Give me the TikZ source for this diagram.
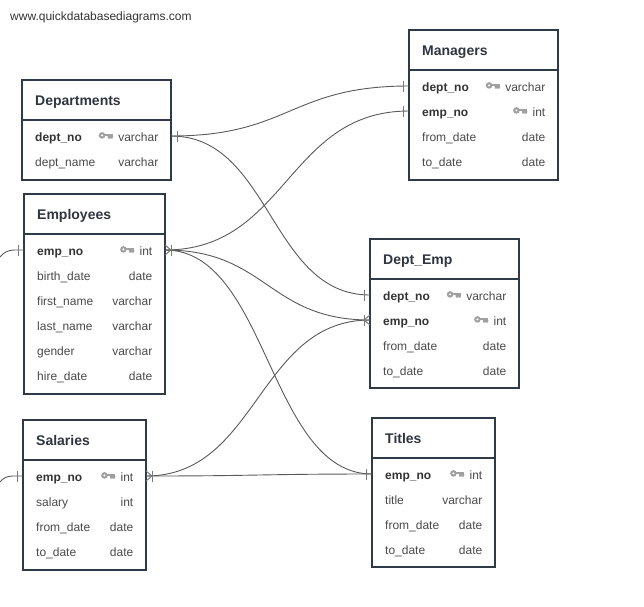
\documentclass[tikz,border=0pt]{standalone}
\usepackage{fontspec}
\setmainfont{Liberation Sans}
\usetikzlibrary{calc}
\definecolor{bord}{HTML}{2E3A46}
\definecolor{ttlc}{HTML}{2F3640}
\definecolor{txt}{HTML}{4A4A4A}
\definecolor{txtb}{HTML}{333333}
\definecolor{keyc}{HTML}{A0A0A0}
\definecolor{conn}{HTML}{5A5A5A}
\definecolor{markc}{HTML}{7A7A7A}
\tikzset{
  tbl/.style={draw=bord, line width=2pt, rectangle, inner sep=0pt, outer sep=0pt, fill=white},
  tblline/.style={draw=bord, line width=2pt},
  ttl/.style={font=\fontsize{14}{16}\selectfont\bfseries, text=ttlc, inner sep=0pt, anchor=base west},
  fld/.style={font=\fontsize{12}{14}\selectfont, text=txt, inner sep=0pt, anchor=base west},
  typ/.style={font=\fontsize{12}{14}\selectfont, text=txt, inner sep=0pt, anchor=base east},
  wmark/.style={font=\fontsize{12}{14}\selectfont, text=txtb, inner sep=0pt, anchor=base west},
  rel/.style={draw=conn, line width=0.9pt},
  tickmark/.style={draw=markc, line width=1pt},
  pkicon/.pic={
    \fill[keyc] (-11pt,0pt) circle[radius=3.3pt];
    \fill[white] (-11pt,0pt) circle[radius=1.1pt];
    \fill[keyc] (-8.6pt,-0.6pt) rectangle (0pt,1.6pt);
    \fill[keyc] (-5.6pt,-0.6pt) -- (0pt,-0.6pt) -- (-0.6pt,-3.3pt) -- (-2.4pt,-3.3pt)
      -- (-2.8pt,-2pt) -- (-3.2pt,-3.3pt) -- (-5pt,-3.3pt) -- cycle;
  }
}
% #1 name, #2 x, #3 y, #4 width, #5 height, #6 title
\newcommand\ertab[6]{%
  \node[tbl, minimum width=#4pt, minimum height=#5pt, anchor=north west] (#1) at (#2,#3) {};
  \draw[tblline] ([yshift=-40pt]#1.north west) -- ([yshift=-40pt]#1.north east);
  \node[ttl] (#1-t) at ([xshift=13pt,yshift=-25.3pt]#1.north west) {#6};}
% #1 table, #2 index, #3 field, #4 type
\newcommand\errow[4]{%
  \coordinate (#1-#2w) at ([yshift={-(31+25*#2)*1pt}]#1.north west);
  \coordinate (#1-#2e) at ([yshift={-(31+25*#2)*1pt}]#1.north east);
  \node[fld] (#1-#2f) at ([xshift=13pt,yshift={-(36+25*#2)*1pt}]#1.north west) {#3};
  \node[typ] (#1-#2y) at ([xshift=-12.5pt,yshift={-(36+25*#2)*1pt}]#1.north east) {#4};}
\newcommand\erkeyrow[4]{%
  \errow{#1}{#2}{\textcolor{txtb}{\bfseries #3}}{#4}%
  \pic at ([xshift=-5pt,yshift=5.6pt]#1-#2y.base west) {pkicon};}
% one marker: #1 coordinate, #2 direction (+1 right, -1 left)
\newcommand\onemark[2]{%
  \draw[tickmark] ([xshift={6pt*#2},yshift=5.5pt]#1) -- ([xshift={6pt*#2},yshift=-5.5pt]#1);}
\newcommand\manymark[2]{%
  \draw[tickmark] ([xshift={6pt*#2},yshift=5.5pt]#1) -- ([xshift={6pt*#2},yshift=-5.5pt]#1);
  \draw[tickmark] ([yshift=5pt]#1) -- ([xshift={6pt*#2}]#1) -- ([yshift=-5pt]#1);}
\begin{document}
\begin{tikzpicture}[x=1pt,y=-1pt]
\useasboundingbox[fill=white] (0,0) rectangle (644,606);
\node[wmark] (wm) at (10,20) {www.quickdatabasediagrams.com};

\ertab{dep}{22}{80}{149}{100}{Departments}
\erkeyrow{dep}{1}{dept\_no}{varchar}
\errow{dep}{2}{dept\_name}{varchar}

\ertab{emp}{24}{194}{141}{200}{Employees}
\erkeyrow{emp}{1}{emp\_no}{int}
\errow{emp}{2}{birth\_date}{date}
\errow{emp}{3}{first\_name}{varchar}
\errow{emp}{4}{last\_name}{varchar}
\errow{emp}{5}{gender}{varchar}
\errow{emp}{6}{hire\_date}{date}

\ertab{sal}{23}{420}{123}{150}{Salaries}
\erkeyrow{sal}{1}{emp\_no}{int}
\errow{sal}{2}{salary}{int}
\errow{sal}{3}{from\_date}{date}
\errow{sal}{4}{to\_date}{date}

\ertab{man}{409}{30}{149}{150}{Managers}
\erkeyrow{man}{1}{dept\_no}{varchar}
\erkeyrow{man}{2}{emp\_no}{int}
\errow{man}{3}{from\_date}{date}
\errow{man}{4}{to\_date}{date}

\ertab{de}{370}{239}{149}{149}{Dept\_Emp}
\erkeyrow{de}{1}{dept\_no}{varchar}
\erkeyrow{de}{2}{emp\_no}{int}
\errow{de}{3}{from\_date}{date}
\errow{de}{4}{to\_date}{date}

\ertab{tit}{372}{418}{123}{149}{Titles}
\erkeyrow{tit}{1}{emp\_no}{int}
\errow{tit}{2}{title}{varchar}
\errow{tit}{3}{from\_date}{date}
\errow{tit}{4}{to\_date}{date}

% connectors
\draw[rel] (dep-1e) .. controls +(119,0) and +(-119,0) .. (man-1w);
\draw[rel] (dep-1e) .. controls +(100,0) and +(-100,0) .. (de-1w);
\draw[rel] (emp-1e) .. controls +(122,0) and +(-122,0) .. (man-2w);
\draw[rel] (emp-1e) .. controls +(102,0) and +(-102,0) .. (de-2w);
\draw[rel] (emp-1e) .. controls +(103,0) and +(-103,0) .. (tit-1w);
\draw[rel] (sal-1e) .. controls +(112,0) and +(-112,0) .. (de-2w);
\draw[rel] (sal-1e) .. controls +(113,0) and +(-113,0) .. (tit-1w);

\coordinate (offE) at (0,257);
\coordinate (offS) at (0,482);
\draw[rel] (emp-1w) -- ++(-10,0) .. controls +(-6,0) and +(3,-4) .. (offE);
\draw[rel] (sal-1w) -- ++(-10,0) .. controls +(-6,0) and +(3,-4) .. (offS);

% markers
\onemark{dep-1e}{1}
\onemark{man-1w}{-1}
\onemark{man-2w}{-1}
\onemark{de-1w}{-1}
\manymark{de-2w}{-1}
\onemark{tit-1w}{-1}
\manymark{emp-1e}{1}
\manymark{sal-1e}{1}
\onemark{emp-1w}{-1}
\onemark{sal-1w}{-1}
\end{tikzpicture}
\end{document}
